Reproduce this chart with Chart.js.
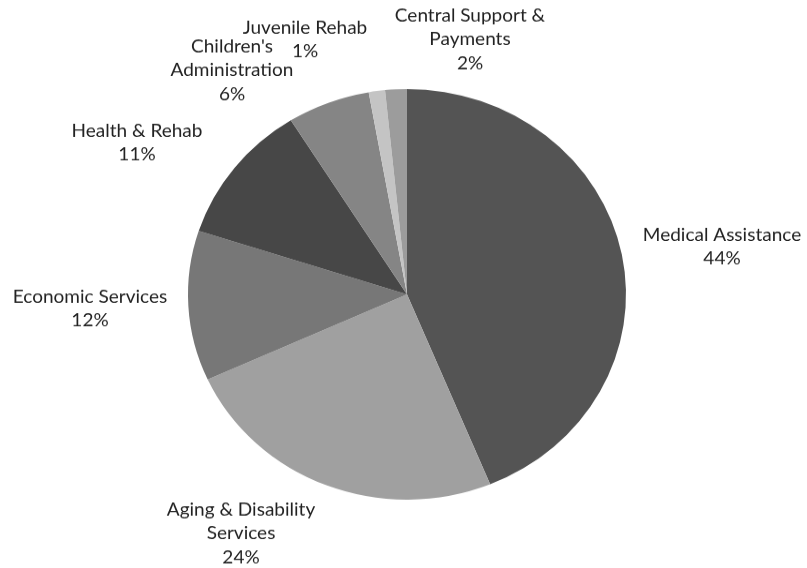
<!DOCTYPE html>
<html>
<head>
<meta charset="utf-8">
<script src="https://cdn.jsdelivr.net/npm/chart.js@4.4.0/dist/chart.umd.min.js"></script>
<style>
  html, body { margin: 0; padding: 0; background: #fff; overflow: hidden; }
  /* the reference is a little stretched sideways, so squash the chart vertically */
  #wrap { width: 807px; height: 606px; transform: scaleY(0.9375); transform-origin: 0 0; }
</style>
</head>
<body>
<div id="wrap"><canvas id="budgetChart" width="807" height="606"></canvas></div>
<script>
// Data (share of budget, %)
const categories = ['Medical Assistance', 'Aging & Disability Services', 'Economic Services',
    'Health & Rehab', "Children's Administration", 'Juvenile Rehab', 'Central Support & Payments'];
const shares = [43.8, 24.4, 11.8, 11.1, 6.1, 1.2, 1.6];
const sliceColors = ['#545454', '#a0a0a0', '#777777', '#474747', '#858585', '#c4c4c4', '#9c9c9c'];

// how each label wraps in the picture
const labelLines = [
    ['Medical Assistance'],
    ['Aging & Disability', 'Services'],
    ['Economic Services'],
    ['Health & Rehab'],
    ["Children's", 'Administration'],
    ['Juvenile Rehab'],
    ['Central Support &', 'Payments']
];

// label block centres (x, y of first line) in canvas units
const labelSpots = [
    [722, 251], [241, 544], [90, 317], [137, 140], [232, 50], [305, 30], [470, 17]
];

const dataLabels = {
    id: 'dataLabels',
    afterDraw(chart) {
        const ctx = chart.ctx;
        const total = shares.reduce((a, b) => a + b, 0);
        ctx.save();
        ctx.font = '19px Lato';
        ctx.fillStyle = '#222';
        ctx.textAlign = 'center';
        ctx.textBaseline = 'middle';
        labelLines.forEach((lines, i) => {
            const pct = Math.round(shares[i] / total * 100) + '%';
            const all = lines.concat([pct]);
            const [x, y] = labelSpots[i];
            all.forEach((t, j) => ctx.fillText(t, x, y + j * 25.2));
        });
        ctx.restore();
    }
};

const ctx = document.getElementById('budgetChart').getContext('2d');
new Chart(ctx, {
    type: 'pie',
    data: {
        labels: categories,
        datasets: [{
            data: shares,
            backgroundColor: sliceColors,
            borderWidth: 0
        }]
    },
    options: {
        responsive: false,
        animation: false,
        layout: { padding: { left: 188, right: 181, top: 95, bottom: 73 } },
        plugins: {
            legend: { display: false },
            tooltip: { enabled: false }
        }
    },
    plugins: [dataLabels]
});
</script>
</body>
</html>
